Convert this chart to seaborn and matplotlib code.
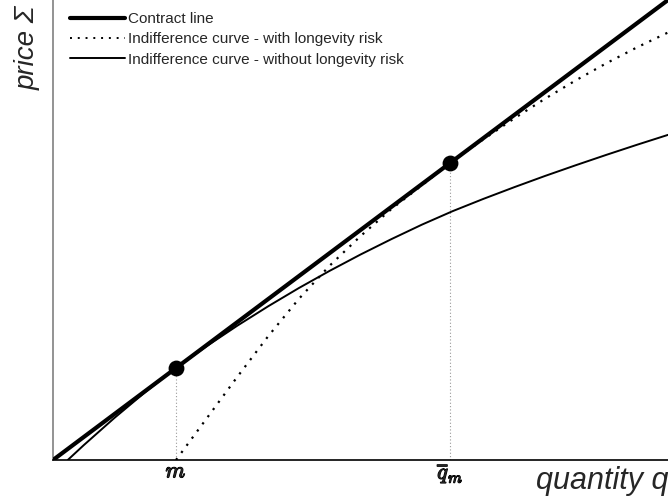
import matplotlib
matplotlib.use("Agg")
import matplotlib.pyplot as plt
import matplotlib.patheffects as pe
import seaborn as sns
from matplotlib.lines import Line2D

# Contract line (price proportional to quantity)
q_contract = [0.0, 10.0]
p_contract = [0.0, 7.5]

# Indifference curve without longevity risk (tangent at m)
q_without = [0.24, 0.5, 1.0, 1.5, 2.0, 2.5, 3.0, 3.5, 4.0, 4.5, 5.0, 5.5, 6.0,
             6.5, 7.0, 7.5, 8.0, 8.5, 9.0, 9.5, 10.0]
p_without = [0.0, 0.242, 0.687, 1.107, 1.50, 1.857, 2.192, 2.507, 2.805, 3.085,
             3.35, 3.60, 3.838, 4.058, 4.258, 4.448, 4.631, 4.806, 4.976, 5.141, 5.301]

# Indifference curve with longevity risk (tangent at q_m)
q_with = [2.0, 2.5, 3.0, 3.5, 4.0, 4.5, 5.0, 5.5, 6.0, 6.46, 7.0, 7.5, 8.0,
          8.5, 9.0, 9.5, 10.0]
p_with = [0.0, 0.68, 1.36, 2.02, 2.63, 3.17, 3.65, 4.09, 4.48, 4.845, 5.23,
          5.57, 5.89, 6.19, 6.47, 6.73, 6.97]

# Tangency points and their axis labels
q_points = [2.0, 6.46]
p_points = [1.5, 4.845]
point_labels = [r"$m$", r"$\overline{q}_m$"]

legend_labels = ["Contract line",
                 "Indifference curve - with longevity risk",
                 "Indifference curve - without longevity risk"]

sns.set_style("white")
plt.rcParams["font.family"] = ["Liberation Sans", "DejaVu Sans"]
plt.rcParams["mathtext.fontset"] = "cm"

W, H = 668, 498
fig = plt.figure(figsize=(W / 100, H / 100), dpi=100)
ax = fig.add_axes([53 / W, 38 / H, 615 / W, 460 / H])

dotted = (0, (1, 3))

# guide lines from the tangency points down to the axis
for q, p in zip(q_points, p_points):
    ax.plot([q, q], [0, p], color="#9a9a9a", lw=0.8, linestyle=(0, (1, 2)), zorder=1)

sns.lineplot(x=q_without, y=p_without, ax=ax, color="black", lw=1.4,
             sort=False, zorder=2)
sns.lineplot(x=q_with, y=p_with, ax=ax, color="black", lw=1.6,
             linestyle=dotted, sort=False, zorder=2)
sns.lineplot(x=q_contract, y=p_contract, ax=ax, color="black", lw=3.0,
             sort=False, zorder=3)
sns.scatterplot(x=q_points, y=p_points, ax=ax, color="black", s=130,
                edgecolor="black", linewidth=0, zorder=4)

ax.set_xlim(0, 10)
ax.set_ylim(0, 7.5)

ax.set_xticks(q_points)
ax.set_xticklabels(point_labels, fontsize=16)
for lbl in ax.get_xticklabels():
    lbl.set_path_effects([pe.withStroke(linewidth=0.9, foreground="black")])
ax.set_yticks([])
ax.tick_params(axis="x", length=0, pad=1)

for side in ("top", "right"):
    ax.spines[side].set_visible(False)
ax.spines["left"].set_color("#808080")
ax.spines["left"].set_linewidth(1.2)
ax.spines["bottom"].set_color("black")
ax.spines["bottom"].set_linewidth(1.2)

ax.set_xlabel("")
ax.set_ylabel("")
fig.text(28 / W, 1 - 6 / H, "price Σ", rotation=90, fontsize=20,
         style="italic", ha="center", va="top")
fig.text(1.0, 1 - 481 / H, "quantity q", fontsize=22, style="italic",
         ha="right", va="center")

handles = [
    Line2D([], [], color="black", lw=3.0),
    Line2D([], [], color="black", lw=1.4, linestyle=dotted),
    Line2D([], [], color="black", lw=1.4),
]
ax.legend(handles, legend_labels, loc="upper left",
          bbox_to_anchor=(17 / 615, 1 - 12 / 460), frameon=False,
          fontsize=11, handlelength=3.6, handletextpad=0.2,
          labelspacing=0.42, borderpad=0, borderaxespad=0)

fig.savefig("out.png", dpi=100)
